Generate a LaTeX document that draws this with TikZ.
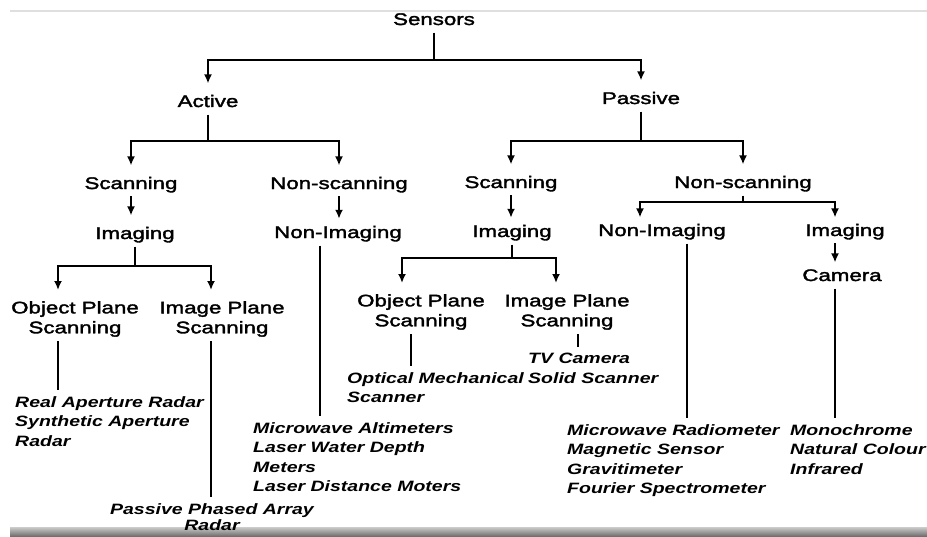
\documentclass[tikz,border=0pt]{standalone}
\usepackage{fontspec}
\usepackage{tikz}
\usetikzlibrary{arrows.meta,calc}

\newfontfamily\labelface[FakeStretch=1.33,FakeBold=2]{Liberation Sans}
\newfontfamily\leafface[FakeStretch=1.3]{Liberation Sans}

\tikzset{
  lbl/.style={font=\labelface\fontsize{14.3}{17}\selectfont, inner sep=0pt,
    text height=0.37cm, text depth=0.105cm, anchor=base},
  twoline/.style={font=\labelface\fontsize{14.3}{17}\selectfont, inner sep=0pt,
    align=center, anchor=north},
  leaf/.style={font=\leafface\bfseries\itshape\fontsize{12.8}{16.6}\selectfont,
    inner sep=0pt, align=left, anchor=north west},
  link/.style={line width=1.8pt},
  arr/.style={link, -{Latex[length=0.27cm,width=0.24cm]}, shorten >=0.33cm},
  dn/.style={arr, shorten <=0.1cm},
  trunk/.style={link, shorten <=0.12cm},
  stem/.style={link, shorten <=0.12cm, shorten >=0.18cm},
}

\begin{document}
\begin{tikzpicture}[x=0.03cm,y=-0.03cm]
    \useasboundingbox (0,0) rectangle (927,537);
    \fill[white] (0,0) rectangle (927,537);
    \draw[gray!25, line width=2pt] (10,11) -- (927,11);
    % scan edge at the bottom
    \shade[top color=gray!40, bottom color=black!60] (10,527) rectangle (927,537);

    % Top levels
    \node[lbl] (sensors) at (434,25) {Sensors};
    \node[lbl] (active) at (208,107) {Active};
    \node[lbl] (passive) at (641,104) {Passive};

    % Active side
    \node[lbl] (scanA) at (131,189) {Scanning};
    \node[lbl] (nscanA) at (339,189) {Non-scanning};
    \node[lbl] (imgA) at (135,239) {Imaging};
    \node[lbl] (nimgA) at (338,238) {Non-Imaging};
    \node[twoline] (opsA) at (75,301) {Object Plane\\Scanning};
    \node[twoline] (ipsA) at (222,301) {Image Plane\\Scanning};

    % Passive side
    \node[lbl] (scanP) at (511,188) {Scanning};
    \node[lbl] (nscanP) at (743,188) {Non-scanning};
    \node[lbl] (imgP) at (512,237) {Imaging};
    \node[lbl] (nimgP) at (662,236) {Non-Imaging};
    \node[lbl] (imgPP) at (845,236) {Imaging};
    \node[lbl] (camera) at (842,281) {Camera};
    \node[twoline] (opsP) at (421,294) {Object Plane\\Scanning};
    \node[twoline] (ipsP) at (567,294) {Image Plane\\Scanning};

    % Sensor lists
    \node[leaf] (radar) at (15,396) {Real Aperture Radar\\Synthetic Aperture\\Radar};
    \node[leaf] (altim) at (253,422) {Microwave Altimeters\\Laser Water Depth\\Meters\\Laser Distance Moters};
    \node[leaf, align=center, anchor=north,
      font=\leafface\bfseries\itshape\fontsize{12.8}{14}\selectfont] (phased) at (212,503) {Passive Phased Array\\Radar};
    \node[leaf] (optmech) at (347,372) {Optical Mechanical\\Scanner};
    \node[leaf] (tvcam) at (528,353) {TV Camera\\Solid Scanner};
    \node[leaf] (radio) at (567,424) {Microwave Radiometer\\Magnetic Sensor\\Gravitimeter\\Fourier Spectrometer};
    \node[leaf] (mono) at (790,424) {Monochrome\\Natural Colour\\Infrared};

    % Sensors split
    \coordinate (jSens) at (sensors.south |- 0,60);
    \draw[trunk] (sensors.south) -- (jSens);
    \draw[arr] (jSens) -| (active);
    \draw[arr] (jSens) -| (passive);

    % Active branch
    \coordinate (jAct) at (active.south |- 0,141);
    \draw[trunk] (active.south) -- (jAct);
    \draw[arr] (jAct) -| (scanA);
    \draw[arr] (jAct) -| (nscanA);
    \draw[dn] (scanA.south) -- (scanA.south |- imgA.north);
    \draw[dn, shorten >=0.2cm] (nscanA.south) -- (nscanA.south |- nimgA.north);
    \coordinate (jImgA) at (imgA.south |- 0,266);
    \draw[trunk] (imgA.south) -- (jImgA);
    \draw[arr] (jImgA) -| (58,0 |- opsA.north);
    \draw[arr] (jImgA) -| (211,0 |- ipsA.north);
    \draw[stem] (58,0 |- opsA.south) -- (58,0 |- radar.north);
    \draw[stem] (211,0 |- ipsA.south) -- (211,0 |- phased.north);
    \draw[stem] (320,0 |- nimgA.south) -- (320,0 |- altim.north);

    % Passive branch
    \coordinate (jPas) at (passive.south |- 0,141);
    \draw[trunk] (passive.south) -- (jPas);
    \draw[arr] (jPas) -| (scanP);
    \draw[arr] (jPas) -| (nscanP);
    \draw[dn, shorten >=0.2cm] (scanP.south) -- (scanP.south |- imgP.north);
    \coordinate (jImgP) at (imgP.south |- 0,258);
    \draw[trunk] (imgP.south) -- (jImgP);
    \draw[arr] (jImgP) -| (402,0 |- opsP.north);
    \draw[arr] (jImgP) -| (556,0 |- ipsP.north);
    \draw[stem] (411,0 |- opsP.south) -- (411,0 |- optmech.north);
    \draw[stem] (578,0 |- ipsP.south) -- (578,0 |- tvcam.north);
    \coordinate (jNsP) at (nscanP.south |- 0,202);
    \draw[trunk] (nscanP.south) -- (jNsP);
    \draw[arr, shorten >=0.18cm] (jNsP) -| (640,0 |- nimgP.north);
    \draw[arr, shorten >=0.18cm] (jNsP) -| (835,0 |- imgPP.north);
    \draw[dn, shorten >=0.18cm] (835,0 |- imgPP.south) -- (835,0 |- camera.north);
    \draw[stem] (687,0 |- nimgP.south) -- (687,0 |- radio.north);
    \draw[stem] (835,0 |- camera.south) -- (835,0 |- mono.north);
\end{tikzpicture}
\end{document}
